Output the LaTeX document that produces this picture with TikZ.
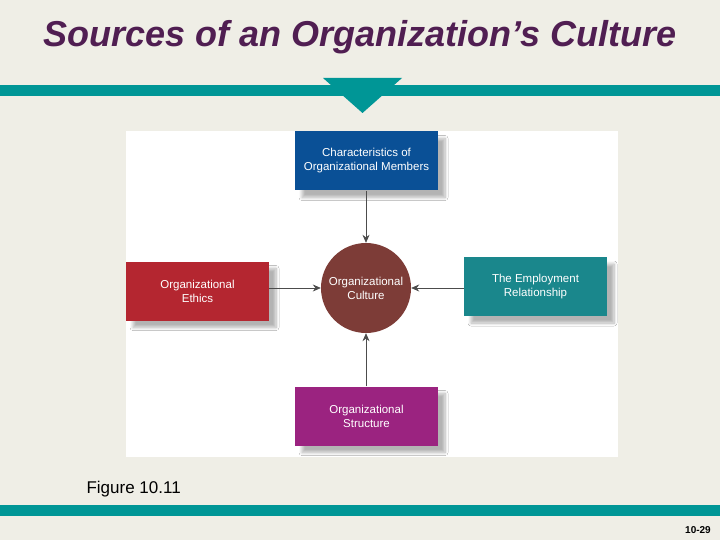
\documentclass[tikz,border=0pt]{standalone}
\usepackage{fontspec}
\setmainfont{Liberation Sans}
\usetikzlibrary{arrows.meta,shadows.blur}
\definecolor{slidebg}{RGB}{239,238,230}
\definecolor{bandteal}{RGB}{0,150,150}
\definecolor{titlepurple}{RGB}{80,30,82}
\definecolor{memberblue}{RGB}{10,80,150}
\definecolor{ethicsred}{RGB}{180,38,48}
\definecolor{employteal}{RGB}{26,135,140}
\definecolor{structpurple}{RGB}{155,35,128}
\definecolor{culturebrown}{RGB}{125,60,55}
\tikzset{
  srcbox/.style={rectangle, minimum width=143pt, minimum height=59pt, inner sep=0pt,
    text=white, align=center, font=\fontsize{11.5}{14}\selectfont,
    blur shadow={shadow xshift=7pt, shadow yshift=-7pt, shadow blur radius=3pt,
      shadow blur steps=8, shadow opacity=30}},
  culturenode/.style={circle, minimum size=90pt, inner sep=0pt, fill=culturebrown,
    text=white, align=center, font=\fontsize{11.5}{14}\selectfont},
  feeds/.style={draw=black!70, line width=0.7pt, -{Stealth[length=8pt,width=7pt]}}
}
\newcommand{\source}[4]{%
 \node[srcbox, fill={#4}] ({#1}) at ({#2}) {#3};%
}

\begin{document}
\begin{tikzpicture}[x=1pt,y=-1pt]
  \useasboundingbox (0,0) rectangle (720,540);
  \fill[slidebg] (0,0) rectangle (720,540);
  % heading and bands
  \node[text=titlepurple, font=\fontsize{36}{42}\selectfont\bfseries\itshape] (title) at (360,37)
    {Sources of an Organization’s Culture};
  \fill[bandteal] (0,85) rectangle (720,96);
  \fill[bandteal] (323,78) -- (402,78) -- (362.5,113) -- cycle;
  \fill[bandteal] (0,505) rectangle (720,516);
  % figure panel
  \fill[white] (126,131) rectangle (618,457);
  \source{members}{366.5,161}{Characteristics of\\Organizational Members}{memberblue};
  \source{ethics}{197.5,291}{Organizational\\Ethics}{ethicsred};
  \source{employ}{535.5,286.5}{The Employment\\Relationship}{employteal};
  \source{structure}{366.5,416}{Organizational\\Structure}{structpurple};
  \node[culturenode] (culture) at (366,288) {Organizational\\Culture};
  \draw[feeds] (members.south -| culture.north) -- (culture.north);
  \draw[feeds] (culture.west -| ethics.east) -- (culture.west);
  \draw[feeds] (culture.east -| employ.west) -- (culture.east);
  \draw[feeds] (structure.north -| culture.south) -- (culture.south);
  % captions
  \node[anchor=west, font=\fontsize{17}{20}\selectfont] (figno) at (83,489) {Figure 10.11};
  \node[font=\fontsize{10}{12}\selectfont\bfseries] (pageno) at (698,530) {10-29};
\end{tikzpicture}
\end{document}
